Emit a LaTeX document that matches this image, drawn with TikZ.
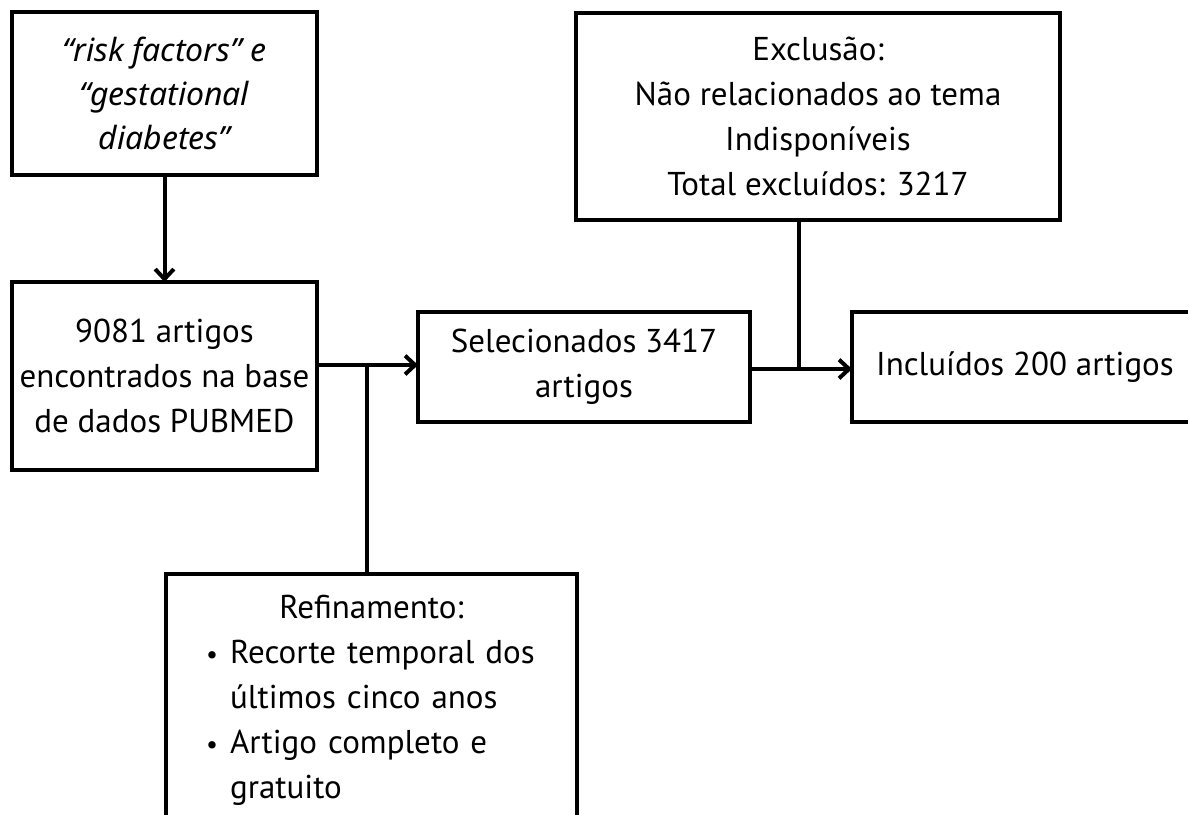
\documentclass[tikz,border=0pt]{standalone}
\usepackage{fontspec}
\setmainfont{PT Sans}
\newfontfamily\itfont{Noto Sans}
\usetikzlibrary{arrows.meta}
\begin{document}
\begin{tikzpicture}[x=0.75pt,y=-0.75pt,
  box/.style={draw=black, line width=3.2pt, fill=white, inner sep=0pt, outer sep=0pt,
    align=center, font=\fontsize{24.75}{33.75}\selectfont},
  conn/.style={line width=3pt},
  arr/.style={conn, -{Straight Barb[length=7.5pt,width=14pt]}}]
\useasboundingbox (0,0) rectangle (1188,814);
\fill[white] (0,0) rectangle (1188,814);
\begin{scope}
\clip (0,0) rectangle (1188,814);
\node[box, minimum width=228.75pt, minimum height=122.25pt,
  font=\itfont\itshape\fontsize{24}{33}\selectfont] (terms) at (164.5,93.5)
  {“risk factors” e\\“gestational\\diabetes”};
\node[box, minimum width=228.75pt, minimum height=141pt] (found) at (164.5,376)
  {9081 artigos\\encontrados na base\\de dados PUBMED};
\node[box, minimum width=249pt, minimum height=82.5pt] (sel) at (584,367)
  {Selecionados 3417\\artigos};
\node[box, minimum width=259.5pt, minimum height=82.5pt] (inc) at (1025,367)
  {Incluídos 200 artigos};
\node[box, minimum width=363pt, minimum height=155.25pt] (exc) at (818,116.5)
  {Exclusão:\\Não relacionados ao tema\\Indisponíveis\\Total excluídos: 3217};
\node[box, minimum width=308.25pt, minimum height=189pt, align=left, text width=242pt] (ref) at (371.5,700)
  {\makebox[\linewidth]{Refinamento:}\\
   \mbox{\makebox[15pt][l]{\hspace*{-3pt}\scalebox{0.8}{•}}Recorte temporal dos}\\
   \mbox{\hspace*{15pt}últimos cinco anos}\\
   \mbox{\makebox[15pt][l]{\hspace*{-3pt}\scalebox{0.8}{•}}Artigo completo e}\\
   \mbox{\hspace*{15pt}gratuito}};
\coordinate (j1) at (367,365);
\coordinate (j2) at (799,369);
\draw[arr] (terms) -- (found);
\draw[arr] (found.east |- j1) -- (sel.west |- j1);
\draw[conn] (j1) -- (j1 |- ref.north);
\draw[arr] (sel.east |- j2) -- (inc.west |- j2);
\draw[conn] (j2) -- (j2 |- exc.south);
\end{scope}
\end{tikzpicture}
\end{document}
